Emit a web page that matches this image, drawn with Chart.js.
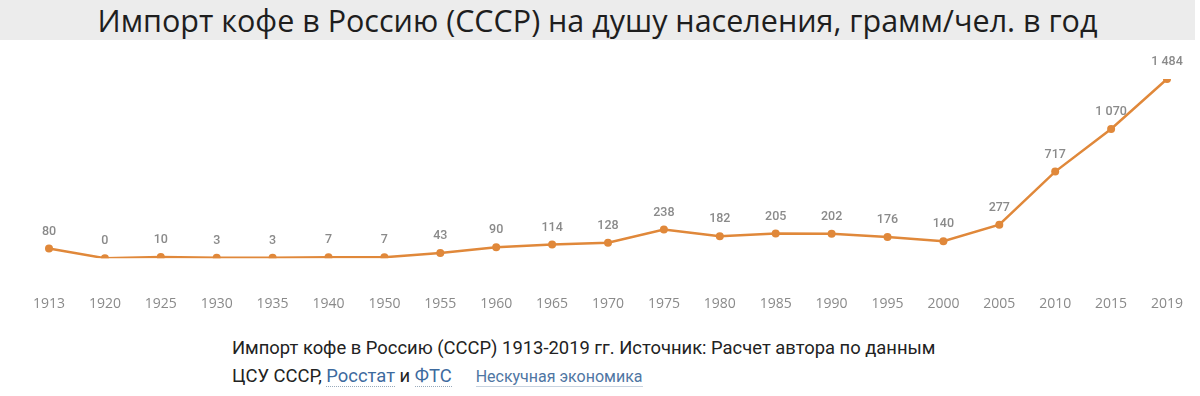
<!DOCTYPE html>
<html><head><meta charset="utf-8">
<script src="https://cdn.jsdelivr.net/npm/chart.js@4/dist/chart.umd.min.js"></script>
<style>
html,body{margin:0;padding:0;background:#fff;width:1200px;height:396px;overflow:hidden;}
#title{position:absolute;left:0;top:0;width:1195px;height:40px;background:#ececec;font-family:"Open Sans",sans-serif;font-size:30.5px;color:#1e1e1e;text-align:center;line-height:40px;white-space:nowrap;}
#wrap{position:absolute;left:0;top:40px;width:1200px;height:285px;}
#cap{position:absolute;left:232px;top:334px;font-family:Roboto,sans-serif;font-size:18.4px;color:#222;line-height:28px;white-space:nowrap;}
.lnk{color:#3d6a9e;border-bottom:1px dotted #9ab;}
.src{color:#4f76a3;font-size:16px;margin-left:24px;border-bottom:1px solid #c8d3df;}
</style></head>
<body>
<div id="title">Импорт кофе в Россию (СССР) на душу населения, грамм/чел. в год</div>
<div id="wrap"><canvas id="c" width="1200" height="285"></canvas></div>
<div id="cap">Импорт кофе в Россию (СССР) 1913-2019 гг. Источник: Расчет автора по данным<br>ЦСУ СССР, <span class="lnk">Росстат</span> и <span class="lnk">ФТС</span><span class="src">Нескучная экономика</span></div>
<script>
const years = ["1913","1920","1925","1930","1935","1940","1950","1955","1960","1965","1970","1975","1980","1985","1990","1995","2000","2005","2010","2015","2019"];
const coffeeImport = [80,0,10,3,3,7,7,43,90,114,128,238,182,205,202,176,140,277,717,1070,1484];

const fmt = v => String(v).replace(/\B(?=(\d{3})+(?!\d))/g, " ");
const labelPlugin = {
  id: "vlabels",
  afterDatasetsDraw(chart) {
    const ctx = chart.ctx;
    const meta = chart.getDatasetMeta(0);
    ctx.save();
    ctx.font = "500 12.5px Roboto, sans-serif";
    ctx.fillStyle = "#8a8a8a";
    ctx.textAlign = "center";
    ctx.textBaseline = "middle";
    meta.data.forEach((p, i) => {
      ctx.fillText(fmt(chart.data.datasets[0].data[i]), p.x, p.y - 17);
    });
    ctx.restore();
  }
};

new Chart(document.getElementById("c"), {
  type: "line",
  data: {
    labels: years,
    datasets: [{
      data: coffeeImport,
      borderColor: "#e0883a",
      backgroundColor: "#e0883a",
      borderWidth: 2.5,
      pointRadius: 4,
      pointBorderWidth: 0,
      tension: 0
    }]
  },
  options: {
    responsive: false,
    animation: false,
    layout: { padding: { left: 49, right: 33, top: 39, bottom: 9 } },
    plugins: { legend: { display: false }, tooltip: { enabled: false } },
    scales: {
      x: {
        offset: false,
        grid: { display: true, drawOnChartArea: false, drawTicks: true, tickLength: 33, color: "rgba(0,0,0,0)" },
        border: { display: false },
        ticks: { color: "#8a8a8a", font: { family: "Open Sans", size: 14 }, padding: 4, maxRotation: 0, autoSkip: false }
      },
      y: { display: false, min: 0, max: 1484 }
    }
  },
  plugins: [labelPlugin]
});
</script>
</body></html>
